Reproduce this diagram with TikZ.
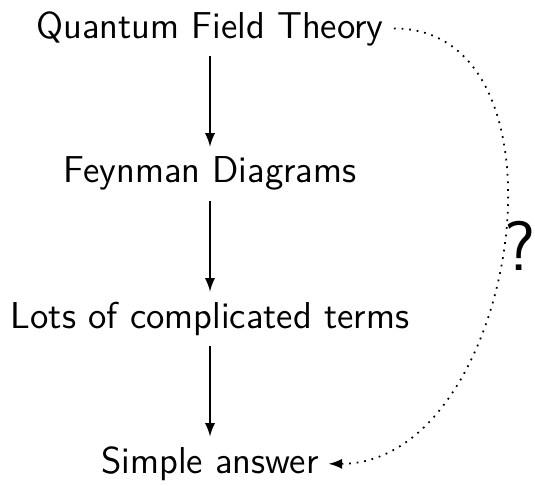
\documentclass[tikz,border=0pt]{standalone}
\usetikzlibrary{arrows, positioning}

\begin{document}
\begin{tikzpicture}[x=0.342pt, y=-0.342pt, node distance=31pt]
        \tikzstyle{term} = [font=\fontsize{12.8}{15}\selectfont\sffamily, text centered]
        \tikzstyle{arrow} = [semithick,->,>=latex]
        \tikzstyle{guess} = [semithick,dotted,->,>=latex]

        \useasboundingbox (0,0) rectangle (535,485);

        \node (qft) [term, anchor=base] at (210,38) {Quantum Field Theory};
        \node (feyn) [term, below=of qft] {Feynman Diagrams};
        \node (terms) [term, below=of feyn] {Lots of complicated terms};
        \node (answer) [term, below=of terms] {Simple answer};

        \draw [arrow] (qft) -- (feyn);
        \draw [arrow] (feyn) -- (terms);
        \draw [arrow] (terms) -- (answer);
        \draw [guess] (qft.east) to[out=0, in=0, looseness=1.1] node[pos=0.5, right, xshift=-3pt, font=\fontsize{24}{28}\selectfont\sffamily] {?} (answer.east);
    \end{tikzpicture}
\end{document}
